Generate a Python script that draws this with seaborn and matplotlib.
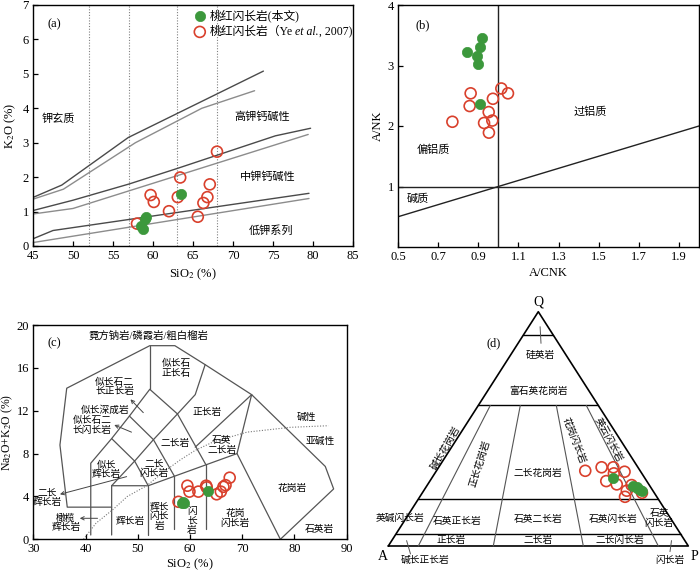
import matplotlib
matplotlib.use("Agg")
import matplotlib.pyplot as plt
import numpy as np
import pandas as pd
import seaborn as sns

sns.set_theme(style="white")
plt.rcParams["font.family"] = ["Liberation Serif", "Noto Sans CJK SC"]
plt.rcParams["mathtext.fontset"] = "stix"
plt.rcParams["text.color"] = "black"
plt.rcParams["axes.labelcolor"] = "black"

GREEN = "#3c983c"
RED = "#d9402c"
DARK = "#4a4a4a"
LIGHT = "#8c8c8c"
LINE = "#555555"

LBL_THIS = "桃红闪长岩(本文)"
LBL_YE = "桃红闪长岩（Ye"
LBL_YE_IT = " et al."
LBL_YE_END = ", 2007)"

# ===== (a) SiO2 - K2O =====
a_this_sio2 = [58.5, 58.8, 59.0, 59.1, 63.5]
a_this_k2o = [0.58, 0.50, 0.78, 0.84, 1.52]
a_ye_sio2 = [58.0, 59.7, 60.1, 62.0, 63.1, 63.4, 65.6, 66.3, 66.8, 67.1, 68.0]
a_ye_k2o = [0.65, 1.48, 1.28, 1.01, 1.42, 1.99, 0.85, 1.25, 1.42, 1.79, 2.74]
a_sho_dark_x = [45, 48.6, 56.9, 73.8]
a_sho_dark_y = [1.41, 1.77, 3.15, 5.08]
a_sho_light_x = [45, 48.8, 57.8, 66.1, 72.7]
a_sho_light_y = [1.36, 1.65, 3.0, 4.0, 4.51]
a_hk_dark_x = [45, 50, 57, 63, 75.3, 79.7]
a_hk_dark_y = [1.03, 1.33, 1.8, 2.25, 3.2, 3.42]
a_hk_light_x = [45, 50, 79.4]
a_hk_light_y = [0.93, 1.09, 3.24]
a_lk_dark_x = [45, 47.5, 79.5]
a_lk_dark_y = [0.21, 0.45, 1.53]
a_lk_light_x = [45, 79.5]
a_lk_light_y = [0.10, 1.38]
a_sio2_div = [52, 57, 63, 68]
a_xticks = [45, 50, 55, 60, 65, 70, 75, 80, 85]
a_yticks = [0, 1, 2, 3, 4, 5, 6, 7]

# ===== (b) A/CNK - A/NK =====
b_this_acnk = [0.92, 0.91, 0.845, 0.895, 0.90, 0.907]
b_this_ank = [3.46, 3.31, 3.22, 3.16, 3.02, 2.36]
b_ye_acnk = [0.771, 0.862, 0.857, 0.952, 0.973, 0.929, 0.970, 0.953, 1.015, 1.048]
b_ye_ank = [2.07, 2.54, 2.33, 2.23, 2.45, 2.05, 2.09, 1.89, 2.62, 2.54]
b_diag_x = [0.5, 2.0]
b_diag_y = [0.5, 2.0]
b_xticks = [0.5, 0.7, 0.9, 1.1, 1.3, 1.5, 1.7, 1.9]
b_yticks = [1, 2, 3, 4]

# ===== (c) TAS (plutonic) =====
c_this_sio2 = [58.4, 58.8, 58.6, 63.4]
c_this_alk = [3.42, 3.36, 3.50, 4.50]
c_ye_sio2 = [57.8, 59.5, 59.9, 61.6, 63.1, 63.2, 65.1, 65.9, 66.4, 66.8, 67.6]
c_ye_alk = [3.5, 5.0, 4.45, 4.45, 5.0, 4.85, 4.2, 4.45, 4.9, 5.05, 5.75]
c_outer_x = [45, 36.5, 35.1, 36.4, 52.3, 57.1, 62.9, 71.8, 85.9, 87.5, 77.3]
c_outer_y = [3, 3, 8.8, 14.1, 18.07, 18.07, 16.3, 13.5, 6.8, 4.7, 0]
c_lines = [
    ([52.3, 52.3], [18.07, 14.0]),
    ([41, 41, 45, 48.4, 52.3, 57.6, 61.0, 62.9], [0.4, 7.1, 9.4, 11.5, 14.0, 11.7, 13.5, 16.3]),
    ([45, 49.4, 53, 57.6], [9.4, 7.3, 9.3, 11.7]),
    ([48.4, 53, 57], [11.5, 9.3, 5.9]),
    ([45, 49.4, 52], [5, 7.3, 5]),
    ([45, 45, 52, 69, 71.8], [0.4, 5, 5, 8, 13.5]),
    ([52, 52], [0.4, 5]),
    ([57, 57], [1.0, 5.9]),
    ([63, 63], [1.0, 7]),
    ([57.6, 63], [11.7, 7]),
    ([61.0, 71.8], [8.6, 13.5]),
    ([69, 77.3], [8, 0]),
]
c_ib_x = [39.6, 42.0, 45.3, 48.0, 51.7, 55.0, 58.1, 61.0, 64.5, 70.9, 79.2, 86.5]
c_ib_y = [0.0, 1.5, 2.8, 4.0, 5.0, 6.3, 7.4, 8.3, 9.1, 10.0, 10.45, 10.6]
c_xticks = [30, 40, 50, 60, 70, 80, 90]
c_yticks = [0, 4, 8, 12, 16, 20]

# ===== (d) QAP =====
d_this_q = [28.9, 25.6, 25.0, 24.1, 23.5, 24.6]
d_this_a = [10.7, 5.5, 4.7, 4.0, 3.85, 4.7]
d_this_p = [60.4, 68.9, 70.3, 71.9, 72.65, 70.7]
d_ye_q = [32.1, 33.6, 33.6, 31.7, 27.7, 26.3, 31.0, 23.6, 21.0, 26.0, 22.7]
d_ye_a = [18.3, 12.1, 8.2, 5.4, 13.5, 10.7, 9.3, 8.7, 10.6, 5.9, 4.1]
d_ye_p = [49.6, 54.3, 58.2, 62.9, 58.8, 63.0, 59.7, 67.7, 68.4, 68.1, 73.2]
d_q_levels = [90, 60, 20, 5]
d_ratios = [10, 35, 65, 90]


def tern(q, a, p):
    q = np.asarray(q, float); a = np.asarray(a, float); p = np.asarray(p, float)
    s = q + a + p
    q = 100 * q / s; p = 100 * p / s
    return p + q / 2.0, q


fig = plt.figure(figsize=(7.0, 5.72), dpi=100)


def px_axes(l, t, r, b):
    return fig.add_axes([l / 700, 1 - b / 572, (r - l) / 700, (b - t) / 572])


def style(ax):
    for s in ax.spines.values():
        s.set_visible(True)
        s.set_color("black")
        s.set_linewidth(1.0)
    ax.tick_params(direction="in", length=3.5, width=0.9, labelsize=9,
                   colors="black", bottom=True, left=True, top=False, right=False, pad=3)
    ax.grid(False)


def pts(ax, xt, yt, xy, yy, legend=False):
    sns.scatterplot(x=xy, y=yy, ax=ax, marker="o", s=62, facecolor="none",
                    edgecolor=RED, linewidth=1.2, zorder=4,
                    label=LBL_YE if legend else None, legend=False)
    sns.scatterplot(x=xt, y=yt, ax=ax, marker="o", s=55, color=GREEN,
                    edgecolor=GREEN, linewidth=0.5, zorder=5,
                    label=LBL_THIS if legend else None, legend=False)


ax_a = px_axes(33, 5, 353, 246)
ax_b = px_axes(398, 5, 699, 247)
ax_c = px_axes(33.3, 325, 346.7, 539.3)
ax_d = px_axes(370, 300, 700, 572)

# ---------- (a)
style(ax_a)
for xs, ys, col in [(a_sho_dark_x, a_sho_dark_y, DARK), (a_sho_light_x, a_sho_light_y, LIGHT),
                    (a_hk_dark_x, a_hk_dark_y, DARK), (a_hk_light_x, a_hk_light_y, LIGHT),
                    (a_lk_dark_x, a_lk_dark_y, DARK), (a_lk_light_x, a_lk_light_y, LIGHT)]:
    ax_a.plot(xs, ys, color=col, lw=1.0, zorder=2)
for xv in a_sio2_div:
    ax_a.axvline(xv, color="#808080", ls=(0, (1, 1.5)), lw=0.8, zorder=1)
pts(ax_a, a_this_sio2, a_this_k2o, a_ye_sio2, a_ye_k2o, legend=True)
ax_a.set_xlim(45, 85)
ax_a.set_ylim(0, 7)
ax_a.set_xticks(a_xticks)
ax_a.set_yticks(a_yticks)
ax_a.set_xlabel("SiO$_2$ (%)", fontsize=9, labelpad=3)
ax_a.set_ylabel("K$_2$O (%)", fontsize=9, labelpad=3)
h, l = ax_a.get_legend_handles_labels()
order = [l.index(LBL_THIS), l.index(LBL_YE)]
leg = ax_a.legend([h[i] for i in order], [l[i] for i in order], loc="upper left",
                  bbox_to_anchor=(0.488, 1.0), frameon=False, fontsize=8.5,
                  handlelength=1.0, handletextpad=0.3, borderaxespad=0.0, labelspacing=0.3)
t_ye = leg.get_texts()[1]
an1 = ax_a.annotate(LBL_YE_IT, xy=(1, 0), xycoords=t_ye, ha="left", va="bottom",
                    fontsize=8.5, fontstyle="italic", zorder=10, annotation_clip=False)
an2 = ax_a.annotate(LBL_YE_END, xy=(1, 0), xycoords=an1, ha="left", va="bottom",
                    fontsize=8.5, zorder=11, annotation_clip=False)
ax_a.text(47.7, 6.45, "(a)", fontsize=9, ha="center", va="center")
ax_a.text(48.2, 3.71, "钾玄质", fontsize=8, ha="center", va="center")
ax_a.text(73.6, 3.76, "高钾钙碱性", fontsize=8, ha="center", va="center")
ax_a.text(74.3, 2.01, "中钾钙碱性", fontsize=8, ha="center", va="center")
ax_a.text(74.7, 0.46, "低钾系列", fontsize=8, ha="center", va="center")

# ---------- (b)
style(ax_b)
ax_b.axvline(1.0, color="#222222", lw=1.0, zorder=2)
ax_b.axhline(1.0, color="#222222", lw=1.0, zorder=2)
ax_b.plot(b_diag_x, b_diag_y, color="#222222", lw=1.0, zorder=2)
pts(ax_b, b_this_acnk, b_this_ank, b_ye_acnk, b_ye_ank)
ax_b.set_xlim(0.5, 2.0)
ax_b.set_ylim(0, 4)
ax_b.set_xticks(b_xticks)
ax_b.set_xticklabels([f"{v:.1f}" for v in b_xticks])
ax_b.set_yticks(b_yticks)
ax_b.set_xlabel("A/CNK", fontsize=9, labelpad=3)
ax_b.set_ylabel("A/NK", fontsize=9, labelpad=3)
ax_b.text(0.625, 3.67, "(b)", fontsize=9, ha="center", va="center")
ax_b.text(0.674, 1.6, "偏铝质", fontsize=8, ha="center", va="center")
ax_b.text(1.46, 2.23, "过铝质", fontsize=8, ha="center", va="center")
ax_b.text(0.6, 0.79, "碱质", fontsize=8, ha="center", va="center")

# ---------- (c)
style(ax_c)
ax_c.plot(c_outer_x, c_outer_y, color=LINE, lw=0.9, zorder=2)
for xs, ys in c_lines:
    ax_c.plot(xs, ys, color=LINE, lw=0.9, zorder=2)
ax_c.plot(c_ib_x, c_ib_y, color="#777777", lw=0.8, ls=(0, (1, 1.5)), zorder=2)
pts(ax_c, c_this_sio2, c_this_alk, c_ye_sio2, c_ye_alk)
ax_c.set_xlim(30, 90)
ax_c.set_ylim(0, 20)
ax_c.set_xticks(c_xticks)
ax_c.set_yticks(c_yticks)
ax_c.set_xlabel("SiO$_2$ (%)", fontsize=9, labelpad=1)
ax_c.set_ylabel("Na$_2$O+K$_2$O (%)", fontsize=8.5, labelpad=1)
fs_c = 7
c_labels = [
    (52.0, 19.0, "霓方钠岩/磷霞岩/粗白榴岩", 7.5),
    (57.4, 15.96, "似长石\n正长石", fs_c),
    (45.6, 14.2, "似长石二\n长正长岩", fs_c),
    (43.7, 12.07, "似长深成岩", fs_c),
    (41.2, 10.6, "似长石二\n长闪长岩", fs_c),
    (63.2, 11.85, "正长岩", fs_c),
    (57.1, 8.9, "二长岩", fs_c),
    (66.1, 8.74, "石英\n二长岩", fs_c),
    (82.3, 11.4, "碱性", fs_c),
    (84.9, 9.1, "亚碱性", fs_c),
    (44.0, 6.47, "似长\n辉长岩", fs_c),
    (53.1, 6.56, "二长\n闪长岩", fs_c),
    (32.7, 3.9, "二长\n辉长岩", fs_c),
    (36.25, 1.5, "橄榄\n辉长岩", fs_c),
    (48.6, 1.65, "辉长岩", fs_c),
    (54.1, 2.1, "辉长\n闪长\n岩", fs_c),
    (60.4, 1.7, "闪\n长\n岩", fs_c),
    (68.6, 1.96, "花岗\n闪长岩", fs_c),
    (79.5, 4.7, "花岗岩", fs_c),
    (84.75, 0.87, "石英岩", fs_c),
]
for x, y, t, f in c_labels:
    ax_c.text(x, y, t, fontsize=f, ha="center", va="center", linespacing=1.05, zorder=3)
ax_c.text(34.1, 18.3, "(c)", fontsize=9, ha="center", va="center")
c_arrows = [((51.06, 11.82), (48.6, 13.06)), ((48.8, 10.0), (45.5, 10.67)),
            ((47.87, 5.85), (35.1, 4.2)), ((42.3, 1.96), (38.9, 1.96))]
for (x0, y0), (x1, y1) in c_arrows:
    ax_c.annotate("", xy=(x1, y1), xytext=(x0, y0),
                  arrowprops=dict(arrowstyle="->", color="#444444", lw=0.7,
                                  shrinkA=0, shrinkB=0, mutation_scale=6))

# ---------- (d)
ax_d.set_axis_off()
ax_d.set_xlim(-6.1, 103.9)
ax_d.set_ylim(-11.1, 105.0)
tx, ty = tern([0, 0, 100, 0], [100, 0, 0, 100], [0, 100, 0, 0])
ax_d.plot(tx, ty, color="black", lw=1.2, zorder=2)
for qv in d_q_levels:
    ax_d.plot([qv / 2, 100 - qv / 2], [qv, qv], color="black", lw=1.0, zorder=2)
for r in d_ratios:
    x60 = 30 + r * 0.4
    ax_d.plot([x60, r], [60, 0], color=LINE, lw=0.8, zorder=2)
ax_d.plot([50.6, 50.9], [93.6, 86.5], color=LINE, lw=0.7)
ax_d.plot([6.1, 7.4], [2.3, -3.4], color=LINE, lw=0.7)
ax_d.plot([94.4, 93.9], [2.3, -2.4], color=LINE, lw=0.7)
dyx, dyy = tern(d_ye_q, d_ye_a, d_ye_p)
dtx, dty = tern(d_this_q, d_this_a, d_this_p)
pts(ax_d, dtx, dty, dyx, dyy)
fs_d = 7
d_labels = [
    (50.6, 81.5, "硅英岩", 0),
    (50.0, 66.1, "富石英花岗岩", 0),
    (19.2, 41.7, "碱长花岗岩", 60),
    (30.6, 35.3, "正长花岗岩", 73),
    (50.0, 31.0, "二长花岗岩", 0),
    (61.7, 45.2, "花岗闪长岩", -69),
    (73.3, 45.2, "英云闪长岩", -62),
    (3.9, 11.8, "英碱闪长岩", 0),
    (22.8, 10.4, "石英正长岩", 0),
    (50.0, 11.1, "石英二长岩", 0),
    (75.0, 11.5, "石英闪长岩", 0),
    (90.3, 11.8, "石英\n闪长岩", 0),
    (21.1, 2.3, "正长岩", 0),
    (50.0, 2.3, "二长岩", 0),
    (77.2, 2.6, "二长闪长岩", 0),
    (12.2, -6.0, "碱长正长岩", 0),
    (93.9, -6.0, "闪长岩", 0),
]
for x, y, t, rot in d_labels:
    ax_d.text(x, y, t, fontsize=fs_d, ha="center", va="center", rotation=rot,
              rotation_mode="anchor", linespacing=1.0, zorder=3)
ax_d.text(50.0, 104.0, "Q", fontsize=10, ha="center", va="center")
ax_d.text(-1.9, -4.3, "A", fontsize=10, ha="center", va="center")
ax_d.text(101.9, -4.3, "P", fontsize=10, ha="center", va="center")
ax_d.text(35.0, 86.5, "(d)", fontsize=9, ha="center", va="center")

fig.savefig("out.png", dpi=100)
